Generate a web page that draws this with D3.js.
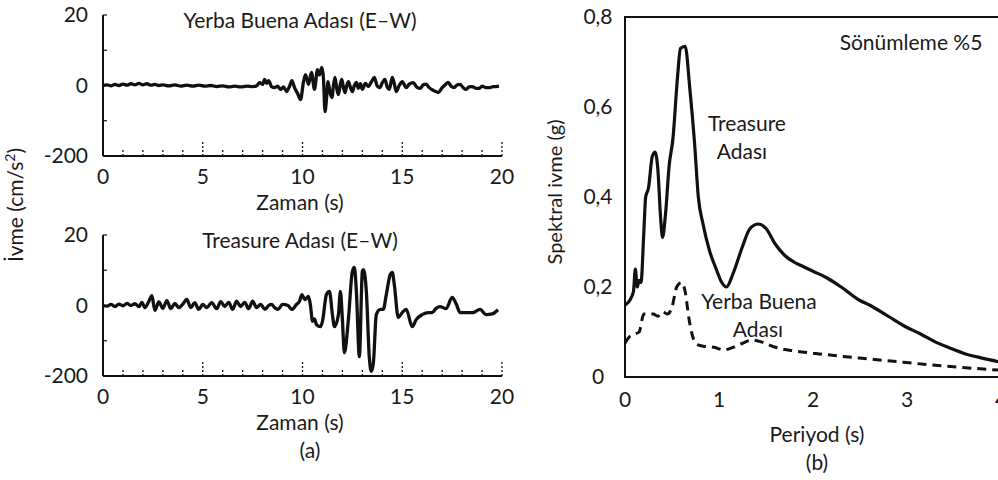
<!DOCTYPE html>
<html>
<head>
<meta charset="utf-8">
<script src="https://cdn.jsdelivr.net/npm/d3@7"></script>
<style>
  body { margin: 0; background: #fff; }
  svg { display: block; }
  text { font-family: Lato, "Open Sans", sans-serif; fill: #1a1a1a; }
</style>
</head>
<body>
<script>
var svgWidth = 998;
var svgHeight = 480;

// (a) ivme kayitlari [zaman (s), ivme (cm/s2)] - Yerba Buena Adasi (E-W)
var ybRecord = [[0, 0], [0.2, 2], [0.4, -1], [0.6, 3], [0.8, 0], [1.0, 4], [1.2, 1], [1.4, 5], [1.6, 2], [1.8, 6],
  [2.0, 2], [2.2, 5], [2.4, 1], [2.6, 3], [2.8, 0], [3.0, 2], [3.3, -1], [3.6, 2], [3.9, -2], [4.2, 1], [4.5, -2],
  [4.8, 1], [5.1, -2], [5.4, 0], [5.7, -3], [6.0, -1], [6.3, -4], [6.6, -2], [6.9, -4], [7.2, -2], [7.5, -3],
  [7.7, -1], [7.85, 8], [8.0, 3], [8.1, 17], [8.2, 6], [8.3, 14], [8.45, -3], [8.6, -6], [8.75, -2], [8.9, -11],
  [9.05, -4], [9.2, -17], [9.35, -2], [9.47, 14], [9.6, -6], [9.75, -22], [9.9, -40], [10.05, 10], [10.15, 31],
  [10.3, 3], [10.45, 37], [10.6, -11], [10.75, 45], [10.85, 30], [10.97, 51], [11.05, 20], [11.13, -74],
  [11.2, -40], [11.28, 11], [11.38, -20], [11.48, -34], [11.55, 0], [11.63, 23], [11.72, -10], [11.8, -26],
  [11.9, 5], [11.97, 17], [12.05, -5], [12.13, -20], [12.22, 0], [12.3, 11], [12.4, -5], [12.5, -17], [12.6, 0],
  [12.7, 9], [12.8, -8], [12.9, 5], [13.0, -11], [13.15, 6], [13.3, -3], [13.45, 10], [13.6, 23], [13.75, -2],
  [13.88, -6], [14.0, 8], [14.13, 17], [14.25, -5], [14.35, -11], [14.5, 23], [14.6, 5], [14.7, -17], [14.85, 0],
  [15.0, 11], [15.2, -6], [15.35, 4], [15.55, 8], [15.75, -6], [15.9, -8], [16.05, 2], [16.2, 4], [16.35, -6],
  [16.5, -12], [16.65, -16], [16.8, -20], [17.0, -6], [17.15, 2], [17.3, 9], [17.45, -2], [17.6, -6], [17.75, 2],
  [17.9, 3], [18.05, -6], [18.2, -11], [18.35, -4], [18.5, -3], [18.7, -8], [18.85, -8], [19.0, -2], [19.2, -6],
  [19.4, -6], [19.55, -3], [19.7, -3], [19.85, -2]];

// Treasure Adasi (E-W)
var tiRecord = [[0, 0], [0.2, -2], [0.4, 3], [0.6, -3], [0.8, 4], [1.0, -1], [1.2, 6], [1.4, 0], [1.6, 5], [1.8, -3],
  [1.95, 9], [2.1, -6], [2.3, 12], [2.45, 28], [2.6, -14], [2.8, 10], [3.0, -8], [3.2, 14], [3.4, -9], [3.6, 6],
  [3.8, -6], [4.0, 4], [4.2, 17], [4.4, -6], [4.6, 8], [4.8, -11], [5.0, 3], [5.2, -6], [5.45, 8], [5.7, -9],
  [5.9, 11], [6.1, -3], [6.3, 9], [6.5, -11], [6.7, 12], [6.9, -3], [7.1, 9], [7.3, -9], [7.5, 12], [7.7, -6],
  [7.9, 3], [8.12, -11], [8.3, 0], [8.45, 3], [8.6, -6], [8.77, -11], [9.0, 3], [9.27, 0], [9.47, -11], [9.7, 3],
  [9.85, 12], [9.97, 31], [10.12, 17], [10.3, 26], [10.4, 0], [10.5, -45], [10.6, -38], [10.7, -54], [10.9, -60],
  [11.0, -45], [11.2, 31], [11.35, 40], [11.5, -26], [11.6, -60], [11.8, -26], [11.9, 40], [12.0, -40],
  [12.1, -134], [12.3, -40], [12.5, 97], [12.6, 108], [12.7, 40], [12.85, -145], [13.0, 97], [13.05, 102],
  [13.2, 40], [13.35, -148], [13.45, -187], [13.55, -165], [13.7, -26], [13.9, -11], [14.05, -11], [14.2, 31],
  [14.4, 88], [14.5, 94], [14.6, 60], [14.8, -34], [15.0, -20], [15.2, -11], [15.5, -60], [15.7, -40],
  [16.0, -26], [16.3, -20], [16.5, -20], [16.7, -8], [16.9, -3], [17.2, -9], [17.5, 23], [17.7, 5], [17.9, -20],
  [18.2, -20], [18.55, -20], [18.9, -11], [19.2, -26], [19.5, -24], [19.8, -12]];

var accTicks = [200, 100, 0, -100];
var accLabelValues = [200, 0, -200];
var accLabels = ["20", "0", "-200"];
var timeTicks = d3.range(1, 21);
var timeLabels = [0, 5, 10, 15, 20];

// (b) spektral ivme [periyod (s), Sa (g)], sonumleme %5
var trSpectrum = [[0, 0.16], [0.05, 0.17], [0.09, 0.19], [0.11, 0.24], [0.13, 0.2], [0.15, 0.215], [0.17, 0.21],
  [0.20, 0.32], [0.22, 0.40], [0.25, 0.42], [0.29, 0.49], [0.32, 0.5], [0.35, 0.46], [0.38, 0.35], [0.40, 0.31],
  [0.43, 0.36], [0.47, 0.47], [0.51, 0.53], [0.56, 0.67], [0.59, 0.73], [0.64, 0.735], [0.69, 0.64],
  [0.74, 0.52], [0.78, 0.4], [0.83, 0.34], [0.9, 0.28], [0.97, 0.24], [1.03, 0.21], [1.08, 0.2], [1.15, 0.23],
  [1.25, 0.29], [1.33, 0.33], [1.42, 0.34], [1.5, 0.33], [1.6, 0.295], [1.7, 0.27], [1.8, 0.255], [1.9, 0.245],
  [2.0, 0.235], [2.15, 0.22], [2.3, 0.2], [2.5, 0.17], [2.6, 0.16], [2.8, 0.135], [3.0, 0.11], [3.15, 0.095],
  [3.3, 0.078], [3.45, 0.065], [3.6, 0.053], [3.8, 0.042], [4.0, 0.033]];

var ybSpectrum = [[0, 0.075], [0.05, 0.09], [0.1, 0.095], [0.15, 0.1], [0.2, 0.14], [0.25, 0.14], [0.3, 0.14],
  [0.35, 0.135], [0.4, 0.145], [0.45, 0.14], [0.5, 0.155], [0.55, 0.2], [0.6, 0.21], [0.64, 0.19], [0.68, 0.13],
  [0.72, 0.09], [0.77, 0.072], [0.85, 0.068], [0.95, 0.066], [1.05, 0.06], [1.15, 0.066], [1.25, 0.075],
  [1.35, 0.082], [1.45, 0.078], [1.6, 0.066], [1.8, 0.058], [2.0, 0.053], [2.3, 0.046], [2.6, 0.04], [3.0, 0.032],
  [3.3, 0.026], [3.6, 0.021], [4.0, 0.015]];

var saTicks = [0, 0.2, 0.4, 0.6, 0.8];
var periodTicks = [0, 1, 2, 3, 4];

var svg = d3.select("body").append("svg")
  .attr("width", svgWidth)
  .attr("height", svgHeight);

var ink = "#111";

// ---------- left panels ----------
var xTime = d3.scaleLinear().domain([0, 20]).range([103, 502]);

function drawRecord(top, bottom, tickGap, labelGap, title, record) {
  var y = d3.scaleLinear().domain([-200, 200]).range([bottom, top]);
  var g = svg.append("g");

  g.append("line").attr("x1", xTime(0)).attr("x2", xTime(0))
    .attr("y1", y(200)).attr("y2", y(-200)).attr("stroke", ink).attr("stroke-width", 2);
  g.append("line").attr("x1", xTime(0)).attr("x2", xTime(20))
    .attr("y1", y(-200)).attr("y2", y(-200)).attr("stroke", ink).attr("stroke-width", 2);

  g.selectAll(".yt").data(accTicks).enter().append("line")
    .attr("x1", xTime(0)).attr("x2", xTime(0) + 4)
    .attr("y1", d => y(d)).attr("y2", d => y(d))
    .attr("stroke", ink).attr("stroke-width", 1.2);

  g.selectAll(".xt").data(timeTicks).enter().append("line")
    .attr("x1", d => xTime(d)).attr("x2", d => xTime(d))
    .attr("y1", y(-200))
    .attr("y2", d => y(-200) - (d % 5 === 0 ? 14 : 7))
    .attr("stroke", ink).attr("stroke-width", 1.3)
    .attr("stroke-dasharray", "2,2");

  g.selectAll(".yl").data(accLabelValues).enter().append("text")
    .attr("x", 88).attr("y", d => y(d)).attr("dy", "0.35em")
    .attr("text-anchor", "end").attr("font-size", 21)
    .text((d, i) => accLabels[i]);

  g.selectAll(".xl").data(timeLabels).enter().append("text")
    .attr("x", d => xTime(d)).attr("y", y(-200) + tickGap).attr("dy", "0.35em")
    .attr("text-anchor", "middle").attr("font-size", 21)
    .text(d => d);

  g.append("text").attr("x", 300).attr("y", y(-200) + labelGap).attr("dy", "0.35em")
    .attr("text-anchor", "middle").attr("font-size", 21).text("Zaman (s)");

  g.append("text").attr("x", 300).attr("y", top + 6).attr("dy", "0.35em")
    .attr("text-anchor", "middle").attr("font-size", 21).text(title);

  var line = d3.line()
    .x(d => xTime(d[0]))
    .y(d => y(d[1]))
    .curve(d3.curveMonotoneX);
  g.append("path").datum(record).attr("d", line)
    .attr("fill", "none").attr("stroke", ink).attr("stroke-width", 3.3)
    .attr("stroke-linejoin", "round");
}

drawRecord(15, 156, 21, 47, "Yerba Buena Adası (E–W)", ybRecord);
drawRecord(235, 376, 21, 47, "Treasure Adası (E–W)", tiRecord);

svg.append("text")
  .attr("transform", "translate(16,205) rotate(-90)")
  .attr("dy", "0.35em").attr("text-anchor", "middle").attr("font-size", 21)
  .html("İvme (cm/s<tspan dy='-8' font-size='14'>2</tspan><tspan dy='8'>)</tspan>");

svg.append("text").attr("x", 310).attr("y", 451).attr("dy", "0.35em")
  .attr("text-anchor", "middle").attr("font-size", 21).text("(a)");

// ---------- right panel ----------
var xPer = d3.scaleLinear().domain([0, 4]).range([625, 1001]);
var ySa = d3.scaleLinear().domain([0, 0.8]).range([377, 17]);

var rg = svg.append("g");
rg.append("rect")
  .attr("x", xPer(0)).attr("y", ySa(0.8))
  .attr("width", xPer(4) - xPer(0)).attr("height", ySa(0) - ySa(0.8))
  .attr("fill", "none").attr("stroke", ink).attr("stroke-width", 2);

var comma = d3.formatLocale({ decimal: ",", thousands: ".", grouping: [3], currency: ["", ""] }).format(".1f");

rg.selectAll(".sl").data(saTicks).enter().append("text")
  .attr("x", 598).attr("y", d => ySa(d)).attr("dy", "0.35em")
  .attr("text-anchor", "middle").attr("font-size", 21)
  .text(d => d === 0 ? "0" : comma(d));

rg.selectAll(".pl").data(periodTicks).enter().append("text")
  .attr("x", d => xPer(d)).attr("y", 400).attr("dy", "0.35em")
  .attr("text-anchor", "middle").attr("font-size", 21)
  .text(d => d);

rg.append("text").attr("x", 817).attr("y", 435).attr("dy", "0.35em")
  .attr("text-anchor", "middle").attr("font-size", 21).text("Periyod (s)");
rg.append("text").attr("x", 817).attr("y", 463).attr("dy", "0.35em")
  .attr("text-anchor", "middle").attr("font-size", 21).text("(b)");

rg.append("text")
  .attr("transform", "translate(555,192) rotate(-90)")
  .attr("dy", "0.35em").attr("text-anchor", "middle").attr("font-size", 20)
  .text("Spektral ivme (g)");

rg.append("text").attr("x", 911).attr("y", 43).attr("dy", "0.35em")
  .attr("text-anchor", "middle").attr("font-size", 21).text("Sönümleme %5");

rg.append("text").attr("x", 747).attr("y", 124).attr("dy", "0.35em")
  .attr("text-anchor", "middle").attr("font-size", 21).text("Treasure");
rg.append("text").attr("x", 742).attr("y", 152).attr("dy", "0.35em")
  .attr("text-anchor", "middle").attr("font-size", 21).text("Adası");
rg.append("text").attr("x", 759).attr("y", 302).attr("dy", "0.35em")
  .attr("text-anchor", "middle").attr("font-size", 21).text("Yerba Buena");
rg.append("text").attr("x", 758).attr("y", 330).attr("dy", "0.35em")
  .attr("text-anchor", "middle").attr("font-size", 21).text("Adası");

var specLine = d3.line()
  .x(d => xPer(d[0]))
  .y(d => ySa(d[1]))
  .curve(d3.curveMonotoneX);

rg.append("path").datum(trSpectrum).attr("d", specLine)
  .attr("fill", "none").attr("stroke", ink).attr("stroke-width", 3.2)
  .attr("stroke-linejoin", "round");
rg.append("path").datum(ybSpectrum).attr("d", specLine)
  .attr("fill", "none").attr("stroke", ink).attr("stroke-width", 3)
  .attr("stroke-dasharray", "9,6");
</script>
</body>
</html>
